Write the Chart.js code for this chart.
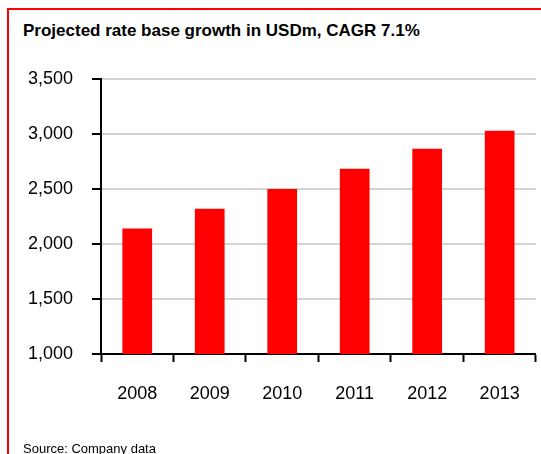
<!DOCTYPE html>
<html>
<head>
<meta charset="utf-8">
<script src="https://cdn.jsdelivr.net/npm/chart.js@4"></script>
<style>
  body { margin: 0; width: 541px; height: 454px; overflow: hidden; background: #fff; font-family: "Liberation Sans", Arial, sans-serif; }
  #frame { position: absolute; left: 7px; top: 8px; width: 540px; height: 460px; border-left: 2px solid #ff0000; border-top: 2px solid #ff0000; }
  #title { position: absolute; left: 23px; top: 21px; font-size: 17px; font-weight: bold; color: #000; white-space: nowrap; }
  #source { position: absolute; left: 23px; top: 441px; font-size: 13px; color: #000; white-space: nowrap; }
  canvas { position: absolute; left: 0; top: 0; }
</style>
</head>
<body>
<div id="frame"></div>
<div id="title">Projected rate base growth in USDm, CAGR 7.1%</div>
<canvas id="chart" width="541" height="454"></canvas>
<div id="source">Source: Company data</div>
<script>
// data
const years = ['2008', '2009', '2010', '2011', '2012', '2013'];
const rateBase = [2140, 2320, 2500, 2685, 2865, 3030];
const yTicks = [1000, 1500, 2000, 2500, 3000, 3500];

const ctx = document.getElementById('chart').getContext('2d');
new Chart(ctx, {
  type: 'bar',
  data: {
    labels: years,
    datasets: [{
      data: rateBase,
      backgroundColor: '#ff0000',
      borderWidth: 0,
      barPercentage: 0.41,
      categoryPercentage: 1
    }]
  },
  options: {
    responsive: false,
    animation: false,
    layout: { padding: { top: 79, right: 4, left: 0, bottom: 0 } },
    plugins: { legend: { display: false }, tooltip: { enabled: false } },
    scales: {
      x: {
        offset: true,
        grid: { offset: true, drawOnChartArea: false, tickLength: 8, tickColor: '#000', tickWidth: 2 },
        border: { color: '#000', width: 2 },
        ticks: { color: '#000', padding: 21, font: { family: '"Liberation Sans", Arial', size: 18 } },
        afterFit: (scale) => { scale.height = 100; }
      },
      y: {
        min: yTicks[0],
        max: yTicks[yTicks.length - 1],
        afterBuildTicks: (scale) => { scale.ticks = yTicks.map(v => ({ value: v })); },
        grid: { color: '#d4d4d4', lineWidth: 2, tickLength: 9, tickColor: '#000', tickWidth: 2 },
        border: { color: '#000', width: 2 },
        ticks: {
          color: '#000',
          padding: 19,
          font: { family: '"Liberation Sans", Arial', size: 18 },
          callback: (v) => v.toLocaleString('en-US')
        },
        afterFit: (scale) => { scale.width = 101; }
      }
    }
  }
});
</script>
</body>
</html>
